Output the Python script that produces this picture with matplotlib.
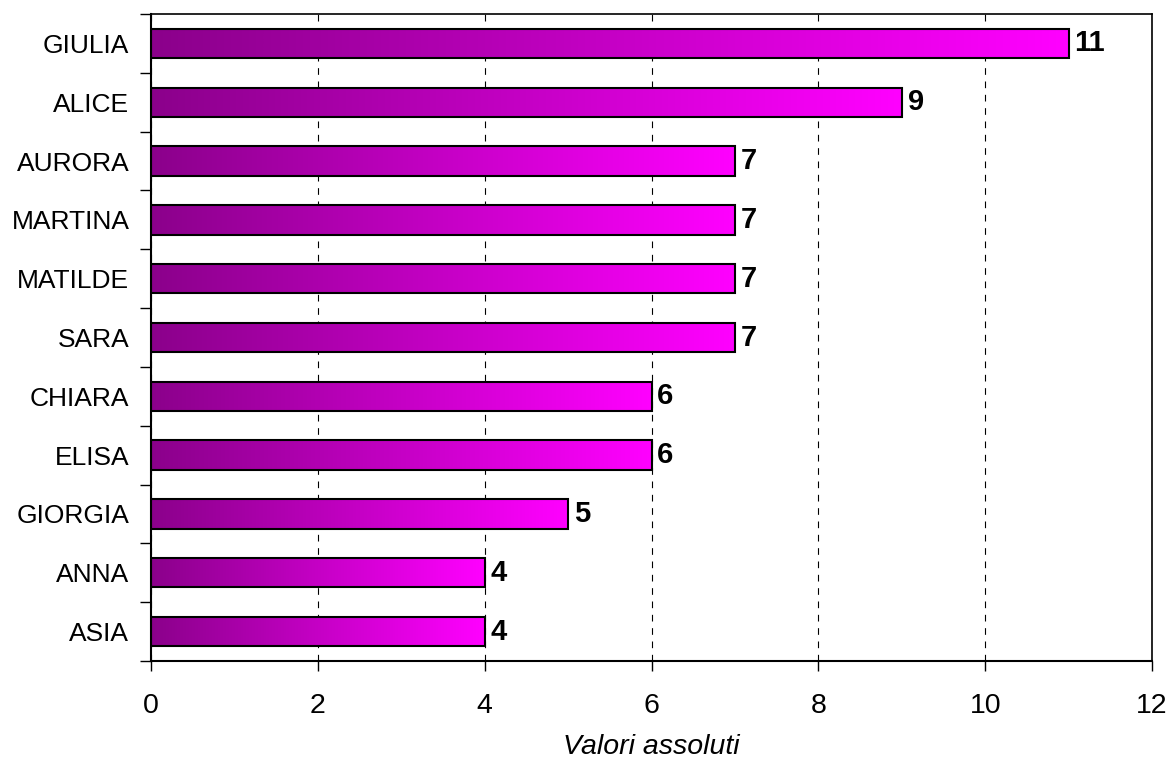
import numpy as np
import matplotlib
matplotlib.use("Agg")
import matplotlib.pyplot as plt
from matplotlib.colors import LinearSegmentedColormap

# Data
names = ["GIULIA", "ALICE", "AURORA", "MARTINA", "MATILDE", "SARA",
         "CHIARA", "ELISA", "GIORGIA", "ANNA", "ASIA"]
values = [11, 9, 7, 7, 7, 7, 6, 6, 5, 4, 4]
x_ticks = [0, 2, 4, 6, 8, 10, 12]

plt.rcParams["font.family"] = ["Liberation Sans", "DejaVu Sans"]

fig = plt.figure(figsize=(11.74, 7.71), dpi=100)
ax = fig.add_axes([0.1286, 0.1427, 0.8527, 0.8391])

cmap = LinearSegmentedColormap.from_list("viola", ["#8B008B", "#FF00FF"])
grad = np.linspace(0, 1, 256).reshape(1, -1)

# categories top to bottom
ypos = np.arange(len(names))[::-1]
bar_h = 0.5

bars = ax.barh(ypos, values, height=bar_h, facecolor="none",
               edgecolor="black", linewidth=1.5, zorder=3)

# per-bar horizontal gradient fill
for b in bars:
    x0, y0 = b.get_x(), b.get_y()
    w, h = b.get_width(), b.get_height()
    ax.imshow(grad, extent=[x0, x0 + w, y0, y0 + h], cmap=cmap,
              aspect="auto", zorder=2, interpolation="bicubic")

# value labels
for y, v in zip(ypos, values):
    ax.text(v + 0.07, y, str(v), va="center", ha="left",
            fontsize=21, fontweight="bold")

ax.set_xlim(0, 12)
ax.set_ylim(-0.5, len(names) - 0.5)

ax.set_xticks(x_ticks)
ax.set_xticklabels([str(t) for t in x_ticks], fontsize=20.5)
ax.tick_params(axis="x", direction="out", length=7, width=1, pad=16)

ax.set_yticks(ypos)
ax.set_yticklabels(names, fontsize=19)
ax.tick_params(axis="y", which="major", length=0, pad=15.5)
ax.set_yticks(np.arange(-0.5, len(names)), minor=True)
ax.tick_params(axis="y", which="minor", direction="out", length=8, width=1)

ax.xaxis.grid(True, linestyle=(0, (6, 6)), color="black", linewidth=0.8)
ax.set_axisbelow(True)

for s in ["left", "bottom"]:
    ax.spines[s].set_linewidth(1.5)
for s in ["top", "right"]:
    ax.spines[s].set_linewidth(1.2)

ax.set_xlabel("Valori assoluti", fontsize=20.5, style="italic", labelpad=11)

fig.savefig("out.png", dpi=100)
